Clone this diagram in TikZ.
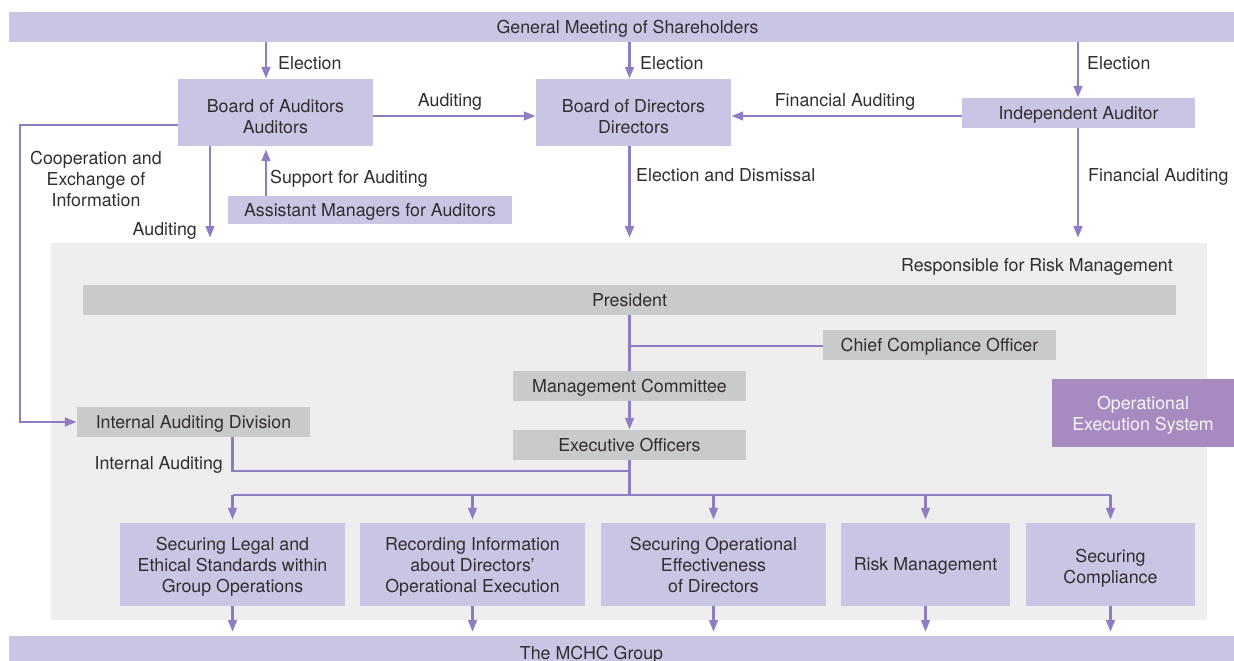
\documentclass[tikz,border=0pt]{standalone}
\usepackage{fontspec}
\setmainfont{TeX Gyre Heros}
\usetikzlibrary{arrows.meta}
\definecolor{lav}{RGB}{200,198,228}
\definecolor{flow}{RGB}{143,125,194}
\definecolor{boxgray}{RGB}{201,202,204}
\definecolor{zone}{RGB}{238,238,238}
\definecolor{opsys}{RGB}{167,139,192}
\definecolor{ink}{RGB}{50,45,47}
\tikzset{
  x=1pt, y=-1pt,
  every node/.style={font=\fontsize{17.8}{21}\selectfont, text=ink, inner sep=0pt,
    align=center, text depth=0pt},
  lavbox/.style={fill=lav, draw=none},
  graybox/.style={fill=boxgray, draw=none},
  board/.style={lavbox, minimum width=195, minimum height=67, text height=42pt},
  link/.style={draw=flow, line width=2.8pt},
  arr/.style={link, -{Triangle[length=12pt,width=8.5pt]}},
}
\begin{document}
\begin{tikzpicture}
\useasboundingbox (0,0) rectangle (1234,661);

% risk management zone
\node[fill=zone, minimum width=1156, minimum height=377, anchor=north west] (zoneA) at (51,243) {};
\node[anchor=east] (rmlbl) at (1173,265) {Responsible for Risk Management};

% governance boxes
\node[lavbox, minimum width=1225, minimum height=30] (gms) at (621.5,27) {\hspace*{12pt}General Meeting of Shareholders};
\node[board] (boa) at (275.5,112.5) {Board of Auditors\\Auditors};
\node[board] (bod) at (633.5,112.5) {Board of Directors\\Directors};
\node[lavbox, minimum width=233, minimum height=30] (ia) at (1078.5,113) {Independent Auditor};
\node[lavbox, minimum width=284, minimum height=28] (amfa) at (370,210) {Assistant Managers for Auditors};

% executive boxes
\node[graybox, minimum width=1093, minimum height=30] (pres) at (629.5,300) {President};
\node[graybox, minimum width=233, minimum height=30] (cco) at (939.5,345) {Chief Compliance Officer};
\node[graybox, minimum width=233, minimum height=30] (mc) at (629.5,386) {Management Committee};
\node[graybox, minimum width=233, minimum height=30] (eo) at (629.5,445) {Executive Officers};
\node[graybox, minimum width=233, minimum height=30] (iad) at (193.5,422) {Internal Auditing Division};
\node[fill=opsys, minimum width=182, minimum height=68, text=white!92!opsys] (oes) at (1143,413) {Operational\\Execution System};

% operational boxes
\node[lavbox, minimum width=225, minimum height=83] (b1) at (232.5,564.5) {Securing Legal and\\Ethical Standards within\\Group Operations};
\node[lavbox, minimum width=225, minimum height=83] (b2) at (472.5,564.5) {Recording Information\\about Directors'\\Operational Execution};
\node[lavbox, minimum width=225, minimum height=83] (b3) at (713.5,564.5) {Securing Operational\\Effectiveness\\of Directors};
\node[lavbox, minimum width=169, minimum height=83] (b4) at (925.5,564.5) {Risk Management};
\node[lavbox, minimum width=169, minimum height=83, text height=38pt] (b5) at (1110.5,564.5) {Securing\\Compliance};

\node[lavbox, minimum width=1225, minimum height=25, anchor=north] (grp) at (621.5,636) {};
\node (grptxt) at (591.5,652.5) {The MCHC Group};

% guide coordinates for connector positions
\coordinate (xA) at (266,0);
\coordinate (xB) at (210,0);
\coordinate (xC) at (629.5,0);
\coordinate (xD) at (1078,0);
\coordinate (xL) at (20,0);
\coordinate (yH) at (0,116);
\coordinate (yC) at (0,125);
\coordinate (yB) at (0,346);
\coordinate (yI) at (0,471);
\coordinate (yBus) at (0,495);

% elections
\draw[arr] (gms.south -| xA) -- (boa.north -| xA);
\draw[arr] (gms.south -| xC) -- (bod.north -| xC);
\draw[arr] (gms.south -| xD) -- (ia.north -| xD);
\node[anchor=west] (e1) at (278,63.5) {Election};
\node[anchor=west] (e2) at (640,63.5) {Election};
\node[anchor=west] (e3) at (1087,63.5) {Election};

% auditing of directors
\draw[arr] (boa.east |- yH) -- (bod.west |- yH);
\node (audl) at (450,100) {Auditing};
\draw[arr] (ia.west |- yH) -- (bod.east |- yH);
\node (finl) at (845,100) {Financial Auditing};

% support for auditors
\draw[arr, shorten >=3pt] (amfa.north -| xA) -- (boa.south -| xA);
\node[anchor=west] (supl) at (270,176.5) {Support for Auditing};

% flows into the risk management zone
\draw[arr, shorten >=5pt] (boa.south -| xB) -- (zoneA.north -| xB);
\node[anchor=east] (aud2) at (197,229) {Auditing};
\draw[arr, shorten >=5pt] (bod.south -| xC) -- (zoneA.north -| xC);
\node[anchor=west] (edl) at (636,175) {Election and Dismissal};
\draw[arr, shorten >=5pt] (ia.south -| xD) -- (zoneA.north -| xD);
\node[anchor=west] (fin2) at (1088,175) {Financial Auditing};

% cooperation with internal auditing
\draw[arr] (boa.west |- yC) -- (xL |- yC) -- (xL |- iad.west) -- (iad.west);
\node (coop) at (96,179) {Cooperation and\\Exchange of\\Information};

% executive chain
\draw[link] (pres.south -| xC) -- (mc.north -| xC);
\draw[link] (xC |- yB) -- (cco.west |- yB);
\draw[arr] (mc.south) -- (eo.north);
\draw[link] (eo.south) -- (xC |- yBus);
\draw[link] (iad.south -| b1) -- (b1 |- yI) -- (xC |- yI);
\node[anchor=east] (intl) at (223,463) {Internal Auditing};

% distribution bus
\draw[link] (b1 |- yBus) -- (b5 |- yBus);
\foreach \b in {b1,b2,b3,b4,b5}{
  \draw[arr, shorten >=3pt] (\b |- yBus) -- (\b.north);
  \draw[arr, shorten >=4pt] (\b.south) -- (grp.north -| \b);
}
\end{tikzpicture}
\end{document}
